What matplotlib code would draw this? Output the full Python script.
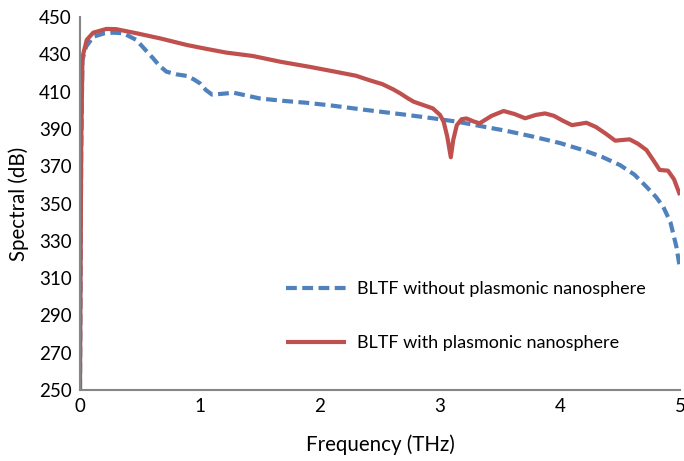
import matplotlib
matplotlib.use("Agg")
import matplotlib.pyplot as plt

# Data
freq_without = [0, 0.01, 0.02, 0.05, 0.11, 0.2, 0.28, 0.36, 0.47, 0.55, 0.61, 0.66, 0.72, 0.8, 0.89, 0.95,
                1.0, 1.05, 1.1, 1.2, 1.28, 1.5, 1.7, 1.89, 2.1, 2.39, 2.7, 2.94, 3.15, 3.33, 3.55, 3.78,
                4.0, 4.19, 4.35, 4.5, 4.62, 4.72, 4.8, 4.86, 4.92, 4.97, 5.0]
spec_without = [250, 380, 427, 434, 439.4, 441.2, 441.6, 441.3, 437.7, 432, 427.8, 424, 420.7, 419.3, 418.4, 416.5,
                414.4, 410.8, 408.4, 408.9, 409.4, 406.3, 405.0, 404.0, 402.5, 400.1, 397.7, 395.7, 393.8, 391.6, 389.0, 385.8,
                382.4, 378.7, 375.0, 370.6, 365.5, 359, 353.5, 348.3, 340, 326.8, 315]

freq_with = [0, 0.01, 0.02, 0.03, 0.056, 0.11, 0.22, 0.3, 0.47, 0.67, 0.89, 1.03, 1.22, 1.44, 1.67,
             1.92, 2.1, 2.3, 2.417, 2.52, 2.61, 2.67, 2.73, 2.78, 2.86, 2.94, 3.0, 3.03, 3.06, 3.09, 3.11, 3.14, 3.18, 3.22, 3.28,
             3.33, 3.43, 3.53, 3.62, 3.71, 3.8, 3.875, 3.95, 4.02, 4.1, 4.22, 4.3, 4.38, 4.46, 4.58, 4.65,
             4.72, 4.78, 4.83, 4.9, 4.95, 5.0]
spec_with = [250, 380, 428, 431, 437.7, 441.6, 443.6, 443.5, 441.3, 438.5, 435.0, 433.2, 430.9, 429.1, 426.0,
             423.2, 421.0, 418.5, 416.0, 414.0, 411.2, 409.0, 406.5, 404.6, 402.8, 401.0, 397.5, 393.9, 386, 374.8, 384, 392, 395.2, 395.6, 394,
             393, 397, 399.6, 398, 395.7, 397.5, 398.3, 397, 394.5, 392, 393.3, 391, 387.5, 383.7, 384.4, 382,
             378.7, 373, 368, 367.6, 363, 354.5]

x_ticks = [0, 1, 2, 3, 4, 5]
y_ticks = list(range(250, 451, 20))

label_without = "BLTF without plasmonic nanosphere"
label_with = "BLTF with plasmonic nanosphere"

plt.rcParams['font.family'] = ['Lato', 'DejaVu Sans']

fig = plt.figure(figsize=(6.84, 4.61), dpi=100)
ax = fig.add_axes([80/684, 1-390/461, 600/684, 373/461])

blue = '#4F81BD'
red = '#C0504D'

l1, = ax.plot(freq_without, spec_without, color=blue, lw=3, linestyle=(0, (2.6, 1.3)),
              label=label_without, solid_joinstyle='round', dash_joinstyle='round')
l2, = ax.plot(freq_with, spec_with, color=red, lw=3, label=label_with,
              solid_joinstyle='round', solid_capstyle='butt')

ax.set_xlim(0, 5)
ax.set_ylim(250, 450)
ax.set_xticks(x_ticks)
ax.set_yticks(y_ticks)
ax.tick_params(length=0, labelsize=13.5, pad=6, colors='black')

for s in ['top', 'right']:
    ax.spines[s].set_visible(False)
for s in ['left', 'bottom']:
    ax.spines[s].set_color('#868686')
    ax.spines[s].set_linewidth(1.5)

ax.set_xlabel("Frequency (THz)", fontsize=14.8, labelpad=14)
ax.set_ylabel("Spectral (dB)", fontsize=14.8, labelpad=7)

leg = ax.legend(handles=[l1, l2], loc='upper left', bbox_to_anchor=(286/684, 1-281/461),
                bbox_transform=fig.transFigure, frameon=False, fontsize=13,
                handlelength=3.3, handletextpad=0.65, labelspacing=2.1, borderpad=0, borderaxespad=0)

fig.savefig("out.png", dpi=100)
